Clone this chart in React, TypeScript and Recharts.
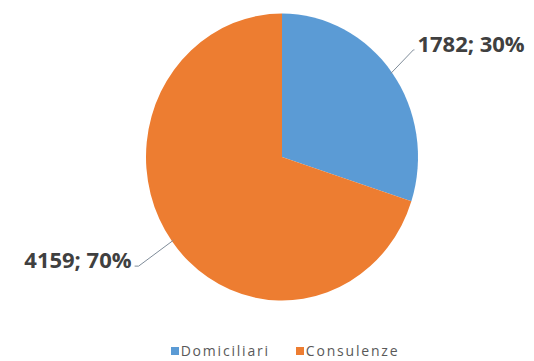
import { PieChart, Pie, Cell, Sector, Legend } from "recharts";

const categories = ["Domiciliari", "Consulenze"];
const values = [1782, 4159];
const percents = ["30%", "70%"];
const colors = ["#5B9BD5", "#ED7D31"];

const data = categories.map((name, i) => ({ name, value: values[i] }));

const CX = 282;
const CY = 157;
const R = 136;
const SY = 1.055;
const RAD = Math.PI / 180;
// leader line direction per slice (dx, dy)
const leader = [
  [23, -24],
  [-35, 26],
];

function StretchedSector(props: any) {
  return (
    <g transform={`translate(0 ${CY}) scale(1 ${SY}) translate(0 ${-CY})`}>
      <Sector {...props} />
    </g>
  );
}

function renderLabel(props: any) {
  const { cx, cy, outerRadius, midAngle, index } = props;
  const cos = Math.cos(-midAngle * RAD);
  const sin = Math.sin(-midAngle * RAD);
  const sx = cx + (outerRadius - 2) * cos;
  const sy = cy + (outerRadius - 2) * sin * SY;
  const ex = sx + leader[index][0];
  const ey = sy + leader[index][1];
  const right = cos >= 0;
  const hx = ex + (right ? 1 : -4);
  return (
    <g>
      <polyline
        points={`${sx},${sy} ${ex},${ey} ${hx},${ey}`}
        fill="none"
        stroke="#7f8c99"
        strokeWidth={1}
      />
      <text
        x={hx + (right ? 3 : -3)}
        y={ey}
        dy={right ? 2 : 2}
        textAnchor={right ? "start" : "end"}
        fontFamily="'Open Sans', sans-serif"
        fontWeight="bold"
        fontSize={22}
        fill="#404040"
      >
        {`${values[index]}; ${percents[index]}`}
      </text>
    </g>
  );
}

function LegendContent() {
  return (
    <div
      style={{
        display: "flex",
        justifyContent: "center",
        gap: 26,
        paddingLeft: 36,
        fontFamily: "'Open Sans', sans-serif",
        fontSize: 14,
        color: "#595959",
        letterSpacing: 1.8,
      }}
    >
      {categories.map((c, i) => (
        <span key={c} style={{ display: "flex", alignItems: "center" }}>
          <span
            style={{
              width: 8,
              height: 8,
              background: colors[i],
              marginRight: 2,
              display: "inline-block",
            }}
          />
          {c}
        </span>
      ))}
    </div>
  );
}

export default function App() {
  return (
    <div style={{ position: "absolute", left: 0, top: 0, width: 534, height: 361, background: "#fff" }}>
      <PieChart width={534} height={361} margin={{ top: 0, right: 0, bottom: 0, left: 0 }}>
        <Pie
          data={data}
          dataKey="value"
          nameKey="name"
          cx={CX}
          cy={CY}
          outerRadius={R}
          startAngle={90}
          endAngle={-270}
          stroke="none"
          shape={StretchedSector}
          label={renderLabel}
          labelLine={false}
          isAnimationActive={false}
        >
          {data.map((d, i) => (
            <Cell key={d.name} fill={colors[i]} />
          ))}
        </Pie>
        <Legend content={<LegendContent />} wrapperStyle={{ top: 341, left: 0, width: 534 }} />
      </PieChart>
    </div>
  );
}
